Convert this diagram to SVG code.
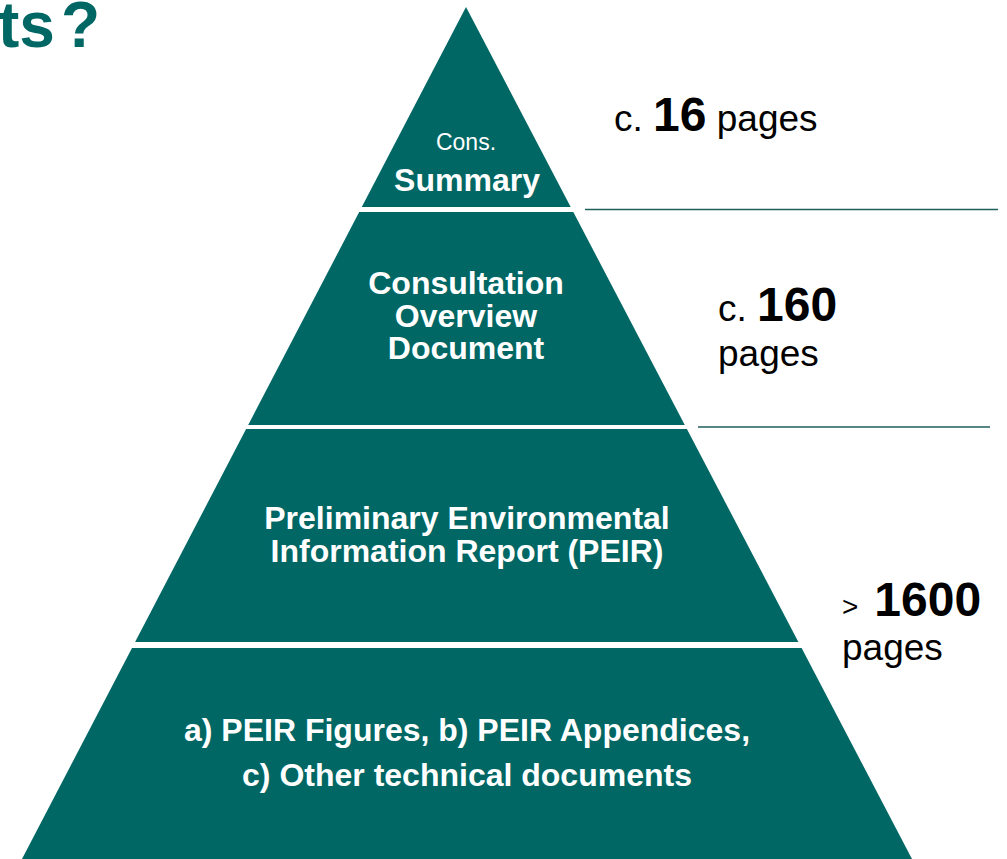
<svg xmlns="http://www.w3.org/2000/svg" width="1007" height="859" viewBox="0 0 1007 859">
<style>
.tier{fill:#006764;}
.wt{fill:#ffffff;font-family:"Liberation Sans",Arial,sans-serif;text-anchor:middle;}
.b{font-weight:bold;}
.lbl{fill:#000000;font-family:"Liberation Sans",Arial,sans-serif;}
.sep{stroke:#1f5f5c;stroke-width:1.5;fill:none;}
</style>
<rect x="0" y="0" width="1007" height="859" fill="#ffffff"/>
<text x="-2" y="47" font-family="'Liberation Sans',Arial,sans-serif" font-weight="bold" font-size="64" fill="#006764">ts<tspan dx="6">?</tspan></text>
<g id="tier1">
<polygon class="tier" points="466,7 570.7,207 361.8,207"/>
<text class="wt" x="466" y="150" font-size="23">Cons.</text>
<text class="wt b" x="467" y="191" font-size="32">Summary</text>
</g>
<g id="tier2">
<polygon class="tier" points="359.2,212 573.3,212 684.8,425 248.2,425"/>
<text class="wt b" x="466" y="294" font-size="32">Consultation</text>
<text class="wt b" x="466" y="327" font-size="32">Overview</text>
<text class="wt b" x="466" y="359" font-size="32">Document</text>
</g>
<g id="tier3">
<polygon class="tier" points="246.1,429 686.9,429 798.4,642 135.1,642"/>
<text class="wt b" x="467" y="529" font-size="32">Preliminary Environmental</text>
<text class="wt b" x="467" y="562" font-size="32">Information Report (PEIR)</text>
</g>
<g id="tier4">
<polygon class="tier" points="132,648 801.6,648 912,859 22,859"/>
<text class="wt b" x="467" y="741" font-size="32">a) PEIR Figures, b) PEIR Appendices,</text>
<text class="wt b" x="467" y="786" font-size="32">c) Other technical documents</text>
</g>
<g id="connectors">
<line class="sep" x1="585" y1="209.5" x2="998" y2="209.5"/>
<line class="sep" x1="698" y1="427" x2="990" y2="427"/>
</g>
<g id="labels">
<text class="lbl" x="614" y="131" font-size="37">c. <tspan font-weight="bold" font-size="48">16</tspan> pages</text>
<text class="lbl" x="718" y="321" font-size="37">c. <tspan font-weight="bold" font-size="48">160</tspan></text>
<text class="lbl" x="718" y="366" font-size="37">pages</text>
<text class="lbl" x="842" y="616" font-size="28">&gt;<tspan dx="16" font-weight="bold" font-size="48">1600</tspan></text>
<text class="lbl" x="842" y="660" font-size="37">pages</text>
</g>
</svg>
